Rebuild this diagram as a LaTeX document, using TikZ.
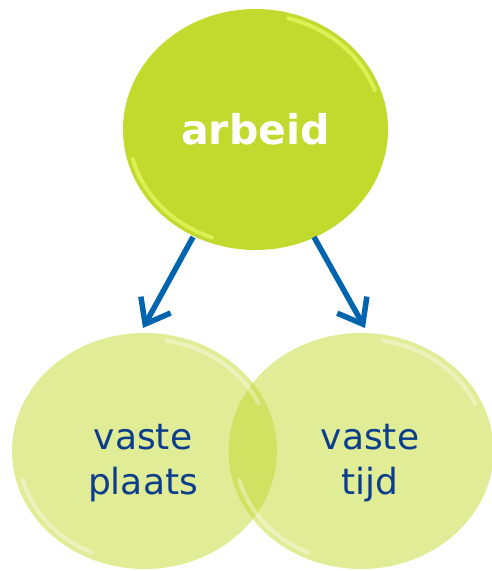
\documentclass[tikz,border=0pt]{standalone}
\usepackage{fontspec}
\setmainfont{DejaVu Sans}
\usetikzlibrary{shapes.geometric,arrows.meta}
\definecolor{lime}{RGB}{194,217,46}
\definecolor{limehi}{RGB}{232,250,100}
\definecolor{arrowblue}{RGB}{0,100,175}
\definecolor{textblue}{RGB}{12,62,140}
\tikzset{
  topball/.style={ellipse, fill=lime, minimum width=265pt, minimum height=241pt, inner sep=0pt,
    text=white, font=\bfseries\fontsize{41}{45}\selectfont},
  lowball/.style={ellipse, fill=lime, fill opacity=0.5, minimum width=265pt, minimum height=236pt,
    inner sep=0pt},
  lowtext/.style={text=textblue, align=center, font=\fontsize{36}{45}\selectfont},
  link/.style={draw=arrowblue, line width=5.5pt, -{Straight Barb[length=22pt, width=34pt, line width=5.5pt]}},
  gloss/.style={draw=limehi, line width=4pt, line cap=round, opacity=0.7},
  lowgloss/.style={draw=white, line width=4pt, line cap=round, opacity=0.35}
}
\begin{document}
\begin{tikzpicture}[x=1pt,y=-1pt]
\useasboundingbox (0,0) rectangle (491,571);
\node[lowball] (plaats) at (144.5,451) {};
\node[lowball] (tijd) at (361,451) {};
\draw[lowgloss] ([shift={(144.5,451)}]25:126pt and 112pt) arc[start angle=25, end angle=80, x radius=126pt, y radius=112pt];
\draw[lowgloss] ([shift={(144.5,451)}]195:126pt and 112pt) arc[start angle=195, end angle=245, x radius=126pt, y radius=112pt];
\draw[lowgloss] ([shift={(361,451)}]25:126pt and 112pt) arc[start angle=25, end angle=80, x radius=126pt, y radius=112pt];
\draw[lowgloss] ([shift={(361,451)}]195:126pt and 112pt) arc[start angle=195, end angle=245, x radius=126pt, y radius=112pt];
\node[lowtext] (plaatstxt) at (143,463) {vaste\\plaats};
\node[lowtext] (tijdtxt) at (370,463) {vaste\\tijd};
\node[topball] (arbeid) at (255.5,129.5) {arbeid};
\draw[gloss] ([shift={(255.5,129.5)}]20:127pt and 115pt) arc[start angle=20, end angle=75, x radius=127pt, y radius=115pt];
\draw[gloss] ([shift={(255.5,129.5)}]195:127pt and 115pt) arc[start angle=195, end angle=250, x radius=127pt, y radius=115pt];
\coordinate (a1) at (193,237);
\coordinate (t1) at (143,328);
\coordinate (a2) at (314,237);
\coordinate (t2) at (365,328);
\draw[link] (a1) -- (t1);
\draw[link] (a2) -- (t2);
\end{tikzpicture}
\end{document}
